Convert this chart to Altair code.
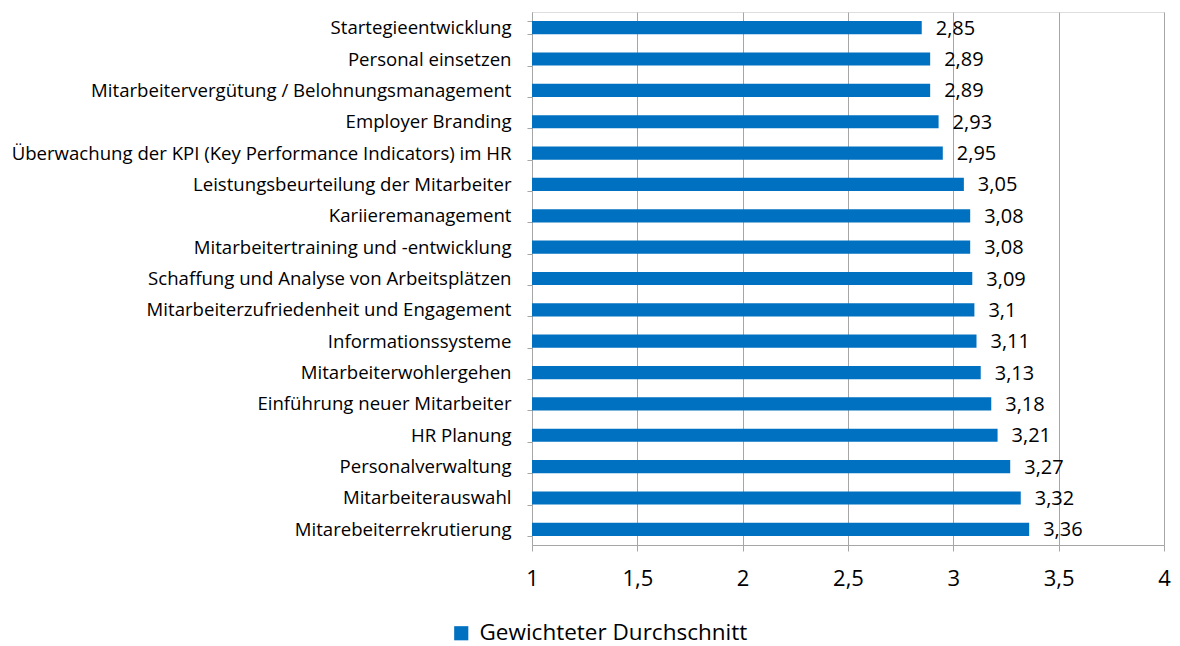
import altair as alt
import pandas as pd

categories = [
    "Startegieentwicklung",
    "Personal einsetzen",
    "Mitarbeitervergütung / Belohnungsmanagement",
    "Employer Branding",
    "Überwachung der KPI (Key Performance Indicators) im HR",
    "Leistungsbeurteilung der Mitarbeiter",
    "Kariieremanagement",
    "Mitarbeitertraining und -entwicklung",
    "Schaffung und Analyse von Arbeitsplätzen",
    "Mitarbeiterzufriedenheit und Engagement",
    "Informationssysteme",
    "Mitarbeiterwohlergehen",
    "Einführung neuer Mitarbeiter",
    "HR Planung",
    "Personalverwaltung",
    "Mitarbeiterauswahl",
    "Mitarebeiterrekrutierung",
]
values = [2.85, 2.89, 2.89, 2.93, 2.95, 3.05, 3.08, 3.08, 3.09, 3.10, 3.11, 3.13, 3.18, 3.21, 3.27, 3.32, 3.36]
labels = ["2,85", "2,89", "2,89", "2,93", "2,95", "3,05", "3,08", "3,08", "3,09", "3,1", "3,11", "3,13", "3,18", "3,21", "3,27", "3,32", "3,36"]
series = "Gewichteter Durchschnitt"

df = pd.DataFrame({"cat": categories, "val": values, "lab": labels, "series": series})

FONT = "Open Sans"
BLUE = "#0070C0"
GRID = "#A6A6A6"

y = alt.Y("cat:N", sort=categories, title=None,
          scale=alt.Scale(paddingInner=0.58, paddingOuter=0.29),
          axis=alt.Axis(labelFont=FONT, labelFontSize=18.6, labelColor="#000000",
                        labelPadding=16, labelLimit=600, tickBand="extent",
                        tickColor=GRID, domainColor=GRID, tickSize=5, grid=False))
x = alt.X("val:Q", title=None,
          scale=alt.Scale(domain=[1, 4], zero=False, nice=False),
          axis=alt.Axis(values=[1, 1.5, 2, 2.5, 3, 3.5, 4],
                        labelExpr="replace(format(datum.value, ''), '.', ',')",
                        labelFont=FONT, labelFontSize=22, labelColor="#000000",
                        labelPadding=17, tickColor=GRID, domainColor=GRID, tickSize=6,
                        gridColor=GRID, gridWidth=1, labelFlush=False))

bars = alt.Chart(df).mark_bar(clip=True).encode(
    y=y, x=x, x2=alt.value(0),
    color=alt.Color("series:N", scale=alt.Scale(range=[BLUE]), title=None,
                    legend=alt.Legend(orient="none", legendX=-82, legendY=610,
                                      direction="horizontal", symbolType="square",
                                      symbolSize=200, symbolStrokeWidth=0,
                                      labelFont=FONT, labelFontSize=22.5, labelColor="#000000",
                                      labelLimit=400, labelOffset=7)),
)

text = alt.Chart(df).mark_text(align="left", baseline="middle", dx=14, dy=1,
                               font=FONT, fontSize=20, color="#000000").encode(
    y=alt.Y("cat:N", sort=categories), x=alt.X("val:Q"), text="lab:N")

chart = alt.layer(bars, text).properties(
    width=632, height=533,
    autosize=alt.AutoSizeParams(type="none"),
    padding={"left": 524, "top": 4, "right": 8, "bottom": 101},
).configure_view(stroke=None).configure(background="white")

chart.save("out.html", embed_options={"renderer": "svg", "actions": False})
